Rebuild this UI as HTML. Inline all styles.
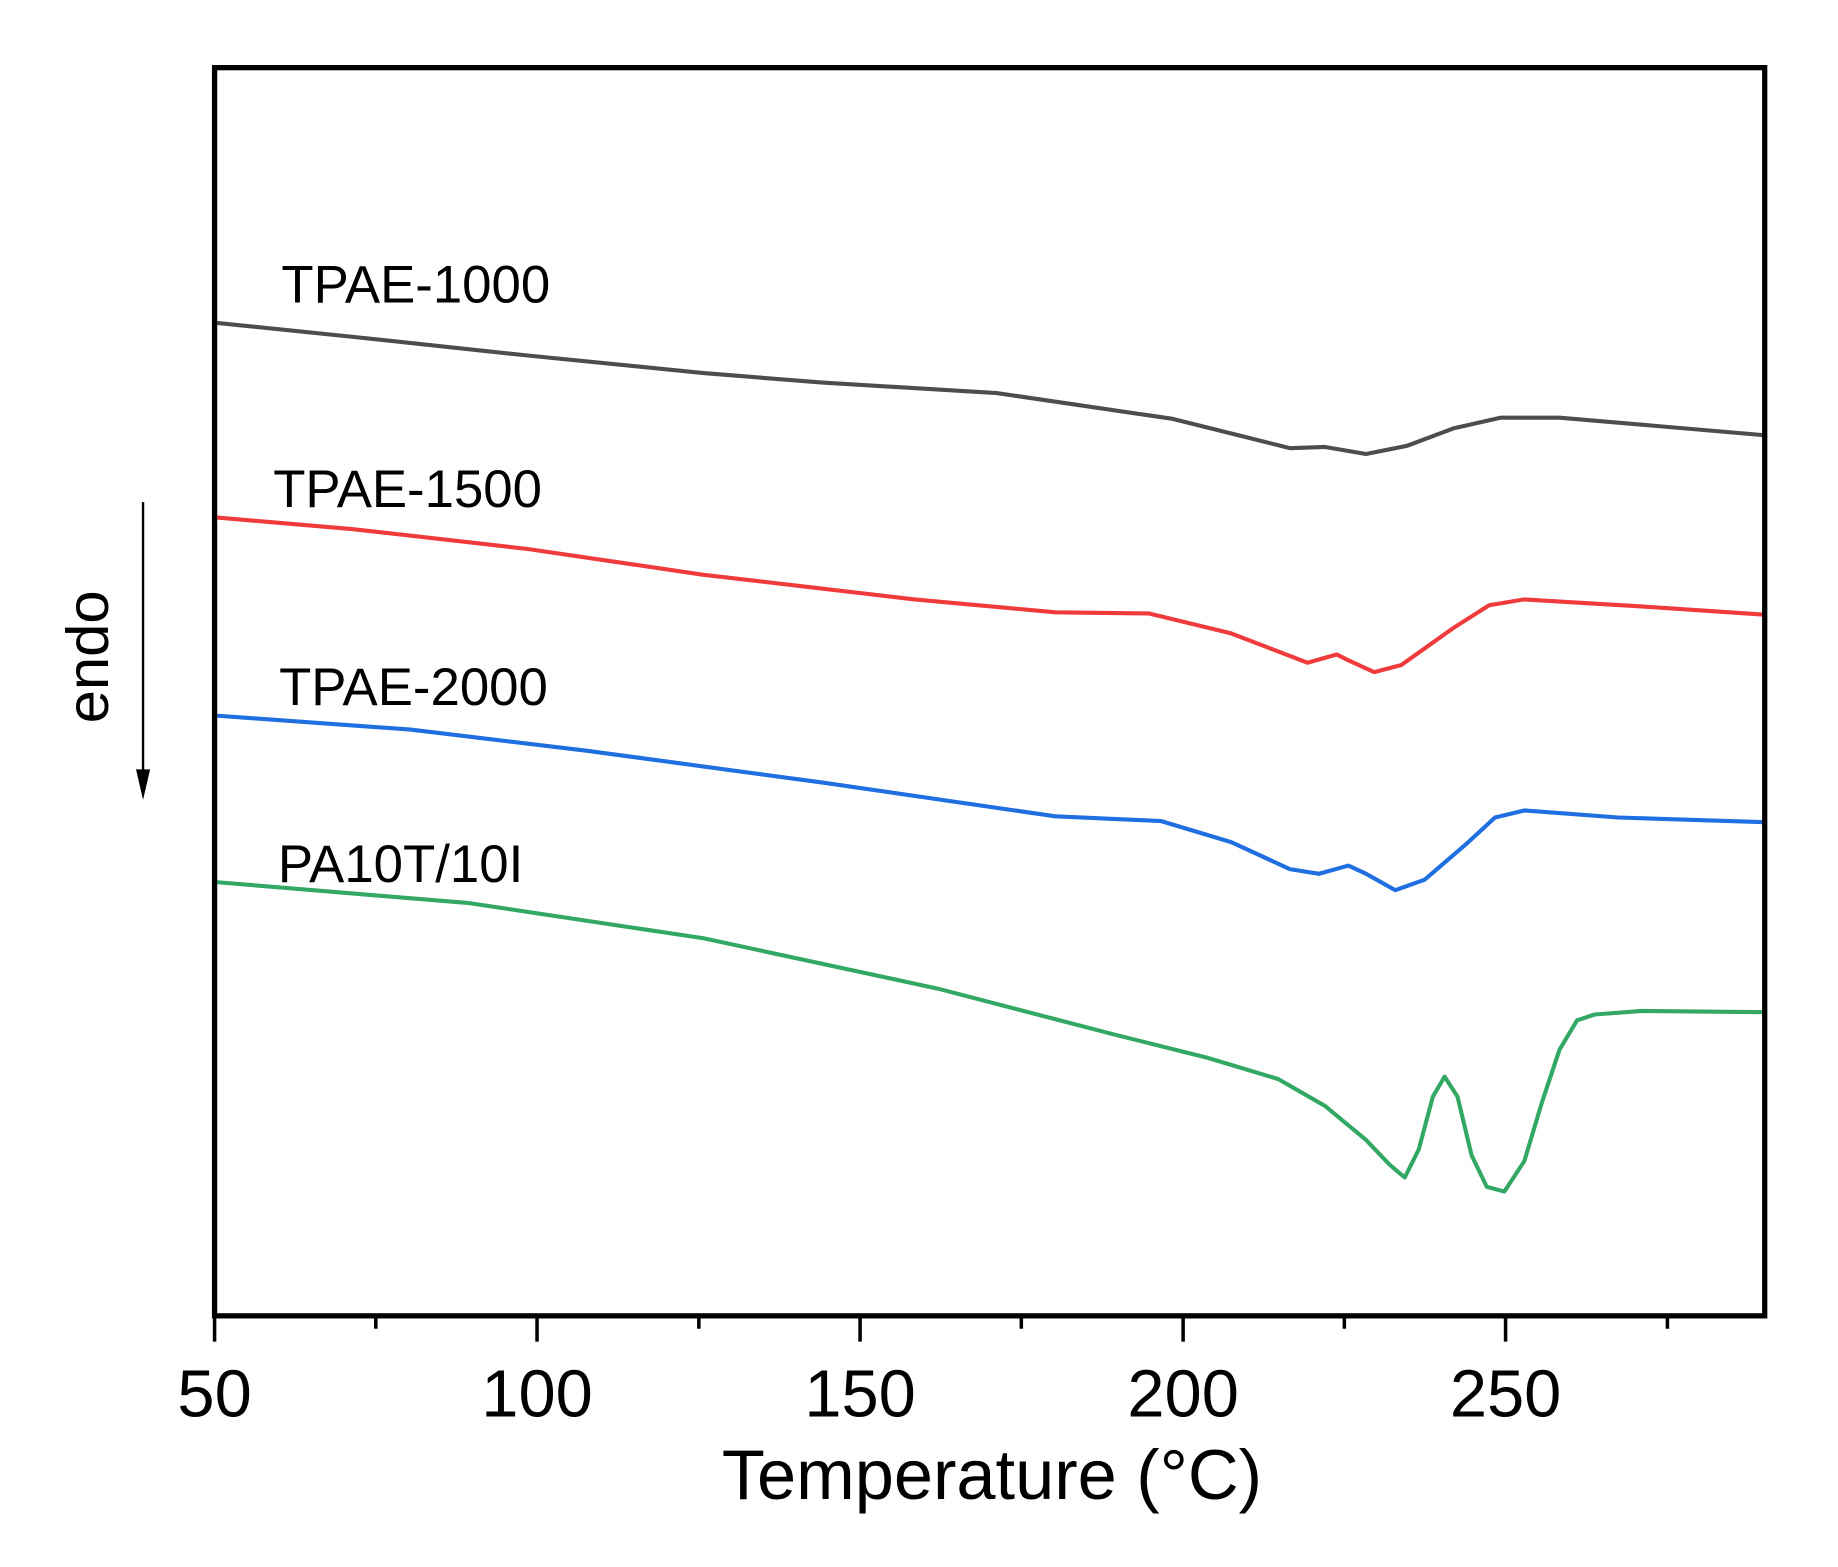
<!DOCTYPE html>
<html><head><meta charset="utf-8"><style>html,body{margin:0;padding:0;background:#fff}svg{display:block}</style></head>
<body>
<svg width="1838" height="1567" viewBox="0 0 1567.5 1336" xmlns="http://www.w3.org/2000/svg" font-family="Liberation Sans, sans-serif">
<rect width="1567.5" height="1336" fill="#fff"/>
<g fill="none" stroke-width="3.5" stroke-linejoin="round" stroke-linecap="round">
<polyline stroke="#4d4d4d" points="183,275 300,287 450,303 600,318 700,326 850,335 1000,357 1060,372 1100,382 1130,381 1165,387 1200,380 1240,365 1280,356 1330,356 1505,371"/>
<polyline stroke="#ef3b3b" points="183,441 300,451 450,468 600,490 780,511 900,522 980,523 1050,540 1115,565 1140,558 1150,563 1172,573 1195,567 1240,535 1270,516 1300,511 1400,517 1505,524"/>
<polyline stroke="#1f6fe0" points="183,610 350,622 500,640 700,667 900,696 990,700 1050,718 1100,741 1125,745 1150,738 1165,745 1190,759 1215,750 1250,720 1275,697 1300,691 1380,697 1505,701"/>
<polyline stroke="#33a864" points="183,752 400,770 600,800 800,843 950,882 1030,902 1090,920 1130,943 1165,972 1185,993 1198,1004 1210,980 1222,935 1232,918 1243,935 1255,985 1268,1012 1283,1016 1300,990 1315,940 1330,895 1345,870 1360,865 1400,862 1505,863"/>
</g>
<rect x="183" y="57.5" width="1322" height="1064.5" fill="none" stroke="#000" stroke-width="4.5"/>
<g stroke="#000" stroke-width="3">
<line x1="183" y1="1122" x2="183" y2="1144"/><line x1="458" y1="1122" x2="458" y2="1144"/><line x1="733.5" y1="1122" x2="733.5" y2="1144"/><line x1="1009" y1="1122" x2="1009" y2="1144"/><line x1="1284" y1="1122" x2="1284" y2="1144"/>
<line x1="320.5" y1="1122" x2="320.5" y2="1133"/><line x1="596" y1="1122" x2="596" y2="1133"/><line x1="871" y1="1122" x2="871" y2="1133"/><line x1="1146.5" y1="1122" x2="1146.5" y2="1133"/><line x1="1422" y1="1122" x2="1422" y2="1133"/>
</g>
<g font-size="57" text-anchor="middle" fill="#000">
<text x="183" y="1208">50</text><text x="458" y="1208">100</text><text x="733.5" y="1208">150</text><text x="1009" y="1208">200</text><text x="1284" y="1208">250</text>
<text x="846" y="1278" font-size="60">Temperature (°C)</text>
</g>
<g font-size="45" fill="#000">
<text x="240" y="258">TPAE-1000</text>
<text x="233" y="432">TPAE-1500</text>
<text x="238" y="601">TPAE-2000</text>
<text x="237" y="752">PA10T/10I</text>
</g>
<text transform="translate(92,560) rotate(-90)" font-size="51" text-anchor="middle">endo</text>
<line x1="122" y1="428" x2="122" y2="660" stroke="#000" stroke-width="2"/>
<polygon points="116,656 128,656 122,682" fill="#000"/>
</svg>
</body></html>
